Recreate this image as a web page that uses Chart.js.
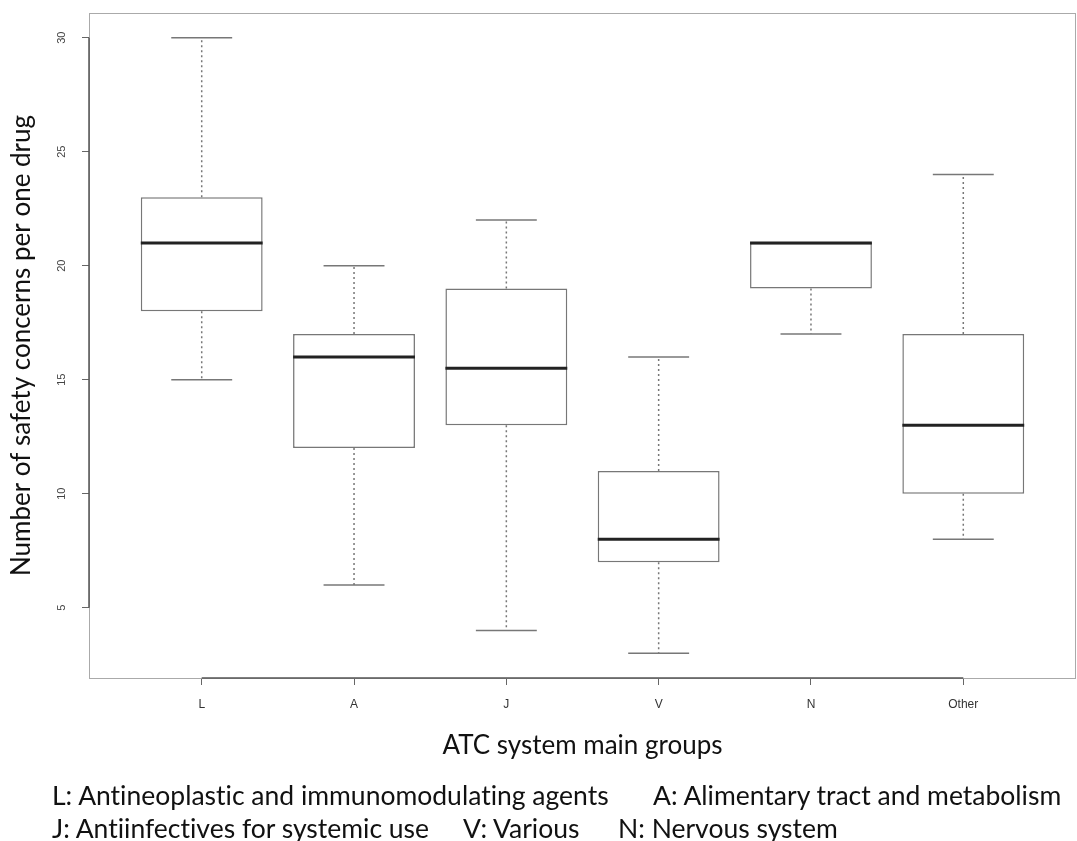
<!DOCTYPE html>
<html>
<head>
<meta charset="utf-8">
<script src="https://cdn.jsdelivr.net/npm/chart.js@4"></script>
<style>
  body { margin: 0; background: #fff; }
  #wrap { position: relative; width: 1077px; height: 841px; }
  .caption { position: absolute; font-family: Lato, sans-serif; font-size: 26.5px; color: #111; white-space: pre; line-height: 26px; font-variant-ligatures: none; }
</style>
</head>
<body>
<div id="wrap">
  <canvas id="box-chart" width="1077" height="841"></canvas>
  <div class="caption" style="left:52px; top:782px">L: Antineoplastic and immunomodulating agents</div>
  <div class="caption" style="left:653px; top:782px">A: Alimentary tract and metabolism</div>
  <div class="caption" style="left:52px; top:815px">J: Antiinfectives for systemic use</div>
  <div class="caption" style="left:463px; top:815px">V: Various</div>
  <div class="caption" style="left:618px; top:815px">N: Nervous system</div>
</div>
<script>
// ATC groups and their box statistics
const groups  = ['L', 'A', 'J', 'V', 'N', 'Other'];
const mins    = [15, 6, 4, 3, 17, 8];
const q1s     = [18, 12, 13, 7, 19, 10];
const medians = [21, 16, 15.5, 8, 21, 13];
const q3s     = [23, 17, 19, 11, 21, 17];
const maxs    = [30, 20, 22, 16, 21, 24];
const yTicks  = [5, 10, 15, 20, 25, 30];

// whiskers, caps and medians on top of the floating bars
const boxPlot = {
    id: 'boxPlot',
    afterDatasetsDraw(chart) {
        const { ctx, scales: { x, y } } = chart;
        const bars = chart.getDatasetMeta(0).data;
        const seg = (x1, y1, x2, y2) => {
            ctx.beginPath();
            ctx.moveTo(x1, y1);
            ctx.lineTo(x2, y2);
            ctx.stroke();
        };
        ctx.save();
        groups.forEach((g, i) => {
            const cx = x.getPixelForValue(i + 1);
            const half = bars[i].width / 2;
            ctx.strokeStyle = '#777';
            ctx.lineWidth = 1.5;
            ctx.setLineDash([2, 3]);
            if (maxs[i] > q3s[i]) seg(cx, y.getPixelForValue(q3s[i]), cx, y.getPixelForValue(maxs[i]));
            if (mins[i] < q1s[i]) seg(cx, y.getPixelForValue(q1s[i]), cx, y.getPixelForValue(mins[i]));
            ctx.setLineDash([]);
            seg(cx - half / 2, y.getPixelForValue(maxs[i]), cx + half / 2, y.getPixelForValue(maxs[i]));
            seg(cx - half / 2, y.getPixelForValue(mins[i]), cx + half / 2, y.getPixelForValue(mins[i]));
            ctx.strokeStyle = '#222';
            ctx.lineWidth = 3;
            seg(cx - half, y.getPixelForValue(medians[i]), cx + half, y.getPixelForValue(medians[i]));
        });
        ctx.restore();
    },
    afterDraw(chart) {
        const { ctx, chartArea: a, scales: { x, y } } = chart;
        ctx.save();
        // plot frame
        ctx.strokeStyle = '#aaa';
        ctx.lineWidth = 1;
        ctx.strokeRect(a.left + 0.5, a.top + 0.5, a.right - a.left - 1, a.bottom - a.top);
        // R style axis lines, tick to tick
        ctx.strokeStyle = '#555';
        ctx.lineWidth = 1.5;
        ctx.beginPath();
        ctx.moveTo(x.getPixelForValue(1), a.bottom);
        ctx.lineTo(x.getPixelForValue(groups.length), a.bottom);
        ctx.moveTo(a.left, y.getPixelForValue(yTicks[0]));
        ctx.lineTo(a.left, y.getPixelForValue(yTicks[yTicks.length - 1]));
        ctx.stroke();
        // rotated y tick labels
        ctx.fillStyle = '#444';
        ctx.font = '11px "Liberation Sans"';
        ctx.textAlign = 'center';
        ctx.textBaseline = 'middle';
        yTicks.forEach(v => {
            ctx.save();
            ctx.translate(a.left - 27, y.getPixelForValue(v));
            ctx.rotate(-Math.PI / 2);
            ctx.fillText(String(v), 0, 0);
            ctx.restore();
        });
        ctx.restore();
    }
};

const ctx = document.getElementById('box-chart').getContext('2d');
new Chart(ctx, {
    type: 'bar',
    data: {
        datasets: [{
            data: groups.map((g, i) => ({ x: i + 1, y: [q1s[i], q3s[i]] })),
            backgroundColor: '#fff',
            borderColor: '#777',
            borderWidth: 1.5,
            borderSkipped: false,
            barPercentage: 0.8,
            categoryPercentage: 1
        }]
    },
    options: {
        responsive: false,
        animation: false,
        layout: { padding: { top: 13, right: 1, bottom: 63, left: 0 } },
        plugins: { legend: { display: false }, tooltip: { enabled: false } },
        scales: {
            x: {
                type: 'linear',
                min: 0.26,
                max: 6.74,
                offset: false,
                afterBuildTicks: s => { s.ticks = groups.map((g, i) => ({ value: i + 1 })); },
                afterFit: s => { s.height = 100; },
                grid: { offset: false, drawOnChartArea: false, drawTicks: true, tickLength: 7, color: '#666' },
                border: { display: false },
                ticks: {
                    callback: (v, i) => groups[i],
                    font: { family: 'Liberation Sans', size: 12 },
                    color: '#333',
                    padding: 12,
                    maxRotation: 0,
                    autoSkip: false
                },
                title: {
                    display: true,
                    text: 'ATC system main groups',
                    font: { family: 'Lato', size: 26 },
                    color: '#111',
                    padding: { top: 0, bottom: 17 }
                }
            },
            y: {
                min: 1.92,
                max: 31.08,
                afterBuildTicks: s => { s.ticks = yTicks.map(v => ({ value: v })); },
                afterFit: s => { s.width = 89; },
                grid: { drawOnChartArea: false, drawTicks: true, tickLength: 7, color: '#666' },
                border: { display: false },
                ticks: { display: false },
                title: {
                    display: true,
                    text: 'Number of safety concerns per one drug',
                    font: { family: 'Lato', size: 26 },
                    color: '#111',
                    padding: { top: 6, bottom: 0 }
                }
            }
        }
    },
    plugins: [boxPlot]
});
</script>
</body>
</html>
